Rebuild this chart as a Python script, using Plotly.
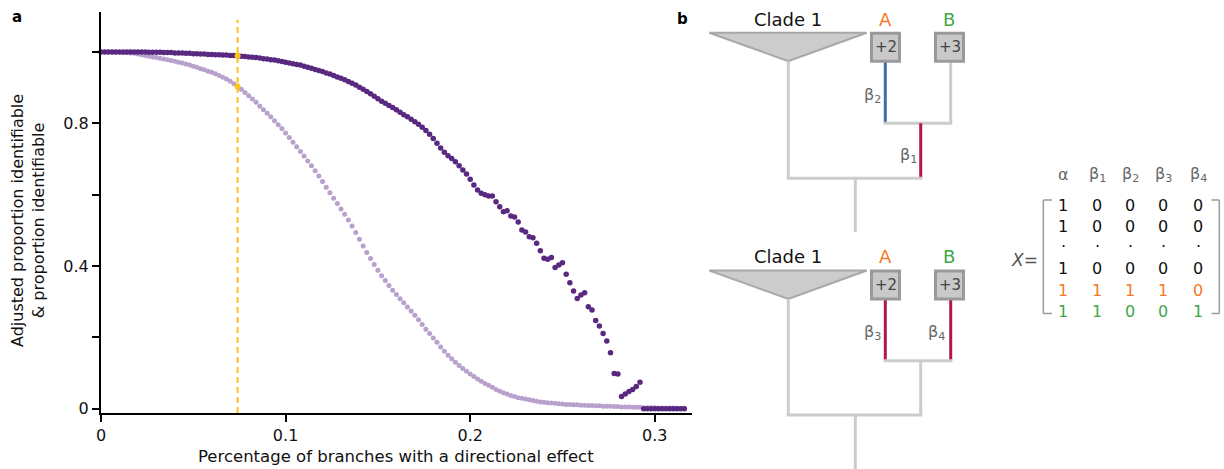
import plotly.graph_objects as go

# ---------------- data (panel a) ----------------
branch_fraction = [round(0.002 * i, 3) for i in range(159)]

adjusted_identifiable = [
    1.000, 1.000, 1.000, 1.000, 1.000, 1.000, 1.000, 1.000, 1.000, 1.000, 1.000,
    1.000, 1.000, 0.999, 0.999, 0.999, 0.999, 0.998, 0.998, 0.998, 0.997,
    0.997, 0.997, 0.996, 0.996, 0.995, 0.995, 0.994, 0.994, 0.993, 0.993,
    0.992, 0.992, 0.991, 0.991, 0.990, 0.990, 0.989,
    0.988, 0.987, 0.986, 0.985, 0.984, 0.983, 0.981, 0.980, 0.978, 0.977, 0.975,
    0.973, 0.971, 0.969, 0.967, 0.965, 0.963, 0.960, 0.957, 0.954,
    0.951, 0.948, 0.945, 0.941, 0.938, 0.934, 0.930, 0.926, 0.922,
    0.917, 0.912, 0.907, 0.901, 0.895, 0.889, 0.883, 0.876, 0.869,
    0.862, 0.856, 0.850, 0.844, 0.838, 0.831, 0.824,
    0.818, 0.811, 0.804, 0.797, 0.789, 0.780, 0.769, 0.757, 0.744, 0.731, 0.719, 0.709, 0.701, 0.692, 0.681,
    0.669, 0.658, 0.643, 0.627, 0.613, 0.604, 0.600, 0.596, 0.596, 0.580, 0.566, 0.552, 0.555, 0.540,
    0.537, 0.523, 0.501, 0.495, 0.482, 0.479, 0.464, 0.443,
    0.422, 0.419, 0.424, 0.396, 0.403, 0.409, 0.377, 0.353, 0.330, 0.309, 0.319, 0.325, 0.286, 0.277,
    0.247, 0.232, 0.211, 0.190, 0.157, 0.099, 0.097, 0.034, 0.041, 0.048, 0.054, 0.062, 0.074,
    0.000, 0.000, 0.000, 0.000, 0.000, 0.000, 0.000, 0.000, 0.000, 0.000, 0.000, 0.000,
]

proportion_identifiable = [
    1.000, 1.000, 1.000, 1.000, 0.999, 0.999, 0.998, 0.998, 0.997, 0.996,
    0.994, 0.992, 0.990, 0.988, 0.986, 0.984, 0.982, 0.980, 0.978, 0.976,
    0.974, 0.971, 0.969, 0.966, 0.963, 0.960, 0.957, 0.953, 0.950, 0.946,
    0.943, 0.939, 0.934, 0.929, 0.924, 0.918, 0.911, 0.903, 0.895, 0.886,
    0.877, 0.868, 0.859, 0.848, 0.838, 0.828, 0.818, 0.807, 0.796, 0.785,
    0.773, 0.760, 0.747, 0.734, 0.721, 0.708, 0.694, 0.681, 0.667, 0.652,
    0.637, 0.621, 0.605, 0.590, 0.575, 0.560, 0.545, 0.529, 0.512, 0.494,
    0.475, 0.456, 0.438, 0.421, 0.404, 0.388, 0.373, 0.359, 0.345, 0.332,
    0.320, 0.308, 0.297, 0.285, 0.274, 0.262, 0.249, 0.236, 0.223, 0.211,
    0.198, 0.186, 0.173, 0.161, 0.150, 0.140, 0.130, 0.121, 0.113, 0.105,
    0.097, 0.090, 0.083, 0.077, 0.071, 0.066, 0.060, 0.054, 0.049, 0.045,
    0.041, 0.037, 0.034, 0.031, 0.029, 0.027, 0.025, 0.023, 0.021, 0.019,
    0.018, 0.017, 0.016, 0.015, 0.014, 0.013, 0.012, 0.012, 0.011, 0.011,
    0.010, 0.010, 0.009, 0.009, 0.008, 0.008, 0.007, 0.007, 0.007, 0.006,
    0.006, 0.005, 0.005, 0.005, 0.004, 0.004, 0.004, 0.003, 0.003, 0.003,
    0.003, 0.002, 0.002, 0.002, 0.002, 0.002, 0.001, 0.001, 0.001,
]

threshold = 0.074
y_tick_vals = [0, 0.2, 0.4, 0.6, 0.8, 1.0]
y_tick_text = ["0", "", "0.4", "", "0.8", ""]
x_tick_vals = [0, 0.1, 0.2, 0.3]
x_tick_text = ["0", "0.1", "0.2", "0.3"]

# ---------------- data (panel b) ----------------
tip_labels = ["A", "B"]
tip_counts = ["+2", "+3"]
top_betas = ["β<sub>2</sub>", "β<sub>1</sub>"]
bottom_betas = ["β<sub>3</sub>", "β<sub>4</sub>"]
matrix_header = ["α", "β<sub>1</sub>", "β<sub>2</sub>", "β<sub>3</sub>", "β<sub>4</sub>"]
matrix_rows = [
    ["1", "0", "0", "0", "0"],
    ["1", "0", "0", "0", "0"],
    ["·", "·", "·", "·", "·"],
    ["1", "0", "0", "0", "0"],
    ["1", "1", "1", "1", "0"],
    ["1", "1", "0", "0", "1"],
]

# ---------------- styling ----------------
W, H = 1224, 469
FONT = "DejaVu Sans"
DARK = "#592880"
LIGHT = "#b8a1cd"
YELLOW = "#fcc419"
ORANGE = "#f47a26"
GREEN = "#3fa846"
CRIMSON = "#b3174e"
BLUE = "#3b6ea8"
BRANCH = "#cccccc"
row_colors = ["#111111", "#111111", "#111111", "#111111", ORANGE, GREEN]


def px(X):
    return X / W


def py(Y):
    return (H - Y) / H


fig = go.Figure()

fig.add_trace(go.Scatter(
    x=branch_fraction, y=proportion_identifiable, mode="markers",
    marker=dict(size=5, color=LIGHT), cliponaxis=False, showlegend=False,
    hoverinfo="skip"))
fig.add_trace(go.Scatter(
    x=branch_fraction, y=adjusted_identifiable, mode="markers",
    marker=dict(size=5.5, color=DARK), cliponaxis=False, showlegend=False,
    hoverinfo="skip"))

ti = branch_fraction.index(threshold)
fig.add_trace(go.Scatter(
    x=[branch_fraction[ti], branch_fraction[ti]],
    y=[proportion_identifiable[ti], adjusted_identifiable[ti]], mode="markers",
    marker=dict(size=6, color=YELLOW), cliponaxis=False, showlegend=False,
    hoverinfo="skip"))

shapes = []
annotations = []

# yellow dashed threshold line
shapes.append(dict(type="line", xref="x", yref="y", x0=threshold, x1=threshold,
                   y0=-0.012, y1=1.09, line=dict(color=YELLOW, width=2, dash="6px,4px"),
                   layer="below"))

# axis titles
annotations.append(dict(xref="paper", yref="paper", x=px(396), y=py(456),
                        text="Percentage of branches with a directional effect",
                        showarrow=False, font=dict(family=FONT, size=16.5, color="#111"),
                        xanchor="center", yanchor="middle"))
annotations.append(dict(xref="paper", yref="paper", x=px(28), y=py(221),
                        text="Adjusted proportion identifiable<br>& proportion identifiable",
                        textangle=-90, showarrow=False,
                        font=dict(family=FONT, size=16, color="#111"),
                        xanchor="center", yanchor="middle"))
# panel letters
annotations.append(dict(xref="paper", yref="paper", x=px(17), y=py(16.5), text="<b>a</b>",
                        showarrow=False, font=dict(family=FONT, size=15, color="#000"),
                        xanchor="center", yanchor="middle"))
annotations.append(dict(xref="paper", yref="paper", x=px(682), y=py(19), text="<b>b</b>",
                        showarrow=False, font=dict(family=FONT, size=15, color="#000"),
                        xanchor="center", yanchor="middle"))


def seg(x0, y0, x1, y1, color, width=3):
    shapes.append(dict(type="line", xref="paper", yref="paper",
                       x0=px(x0), y0=py(y0), x1=px(x1), y1=py(y1),
                       line=dict(color=color, width=width)))


def text(X, Y, t, color, size=16):
    annotations.append(dict(xref="paper", yref="paper", x=px(X), y=py(Y), text=t,
                            showarrow=False, font=dict(family=FONT, size=size, color=color),
                            xanchor="center", yanchor="middle"))


def tree(top, betas, beta_colors, tip_stem_colors, upper):
    tri_bot = top + 28.5
    clade_x, a_x, b_x, mid_x, root_x = 788.3, 885.3, 950.7, 920.7, 855.3
    text(788.3, top - 13.5, "Clade 1", "#111", 18)
    text(885.7, top - 13.5, tip_labels[0], ORANGE, 18)
    text(949.3, top - 13.5, tip_labels[1], GREEN, 18)
    shapes.append(dict(type="path", xref="paper", yref="paper",
                       path=f"M {px(709.3)},{py(top)} L {px(866.7)},{py(top)} L {px(clade_x)},{py(tri_bot)} Z",
                       fillcolor="#cccccc", line=dict(color="#a8a8a8", width=2)))
    if upper:
        join_y, node_y, root_end = 123.3, 178.3, 232
        seg(a_x, tri_bot, a_x, join_y, tip_stem_colors[0])
        seg(b_x, tri_bot, b_x, join_y, tip_stem_colors[1])
        seg(a_x - 1.5, join_y, b_x + 1.5, join_y, BRANCH)
        seg(mid_x, join_y, mid_x, node_y, beta_colors[1])
        seg(clade_x, tri_bot, clade_x, node_y, BRANCH)
        seg(clade_x - 1.5, node_y, mid_x + 1.5, node_y, BRANCH)
        seg(root_x, node_y, root_x, root_end, BRANCH)
        text(872, 95, betas[0], "#666", 16)
        text(908, 155, betas[1], "#666", 16)
    else:
        join_y, node_y, root_end = 360.7, 415, 469
        seg(a_x, tri_bot, a_x, join_y, beta_colors[0])
        seg(b_x, tri_bot, b_x, join_y, beta_colors[1])
        seg(a_x - 1.5, join_y, b_x + 1.5, join_y, BRANCH)
        seg(mid_x, join_y, mid_x, node_y, BRANCH)
        seg(clade_x, tri_bot, clade_x, node_y, BRANCH)
        seg(clade_x - 1.5, node_y, mid_x + 1.5, node_y, BRANCH)
        seg(root_x, node_y, root_x, root_end, BRANCH)
        text(872, 332, betas[0], "#666", 16)
        text(937, 332, betas[1], "#666", 16)
    for bx, lab in zip([885.5, 949.5], tip_counts):
        shapes.append(dict(type="rect", xref="paper", yref="paper",
                           x0=px(bx - 14), x1=px(bx + 14), y0=py(top + 0.5), y1=py(tri_bot),
                           fillcolor="#c9c9c9", line=dict(color="#9a9a9a", width=3)))
        text(bx, top + 14.5, lab, "#444", 15)


tree(32.7, top_betas, [BLUE, CRIMSON], [BLUE, BRANCH], True)
tree(270.5, bottom_betas, [CRIMSON, CRIMSON], [CRIMSON, CRIMSON], False)

# design matrix
col_x = [1063, 1097, 1130, 1163, 1198]
row_y = [205, 226.7, 246.7, 268.3, 290, 311.7]
for cx, h in zip(col_x, matrix_header):
    text(cx, 175, h, "#666", 16)
for r, (ry, row) in enumerate(zip(row_y, matrix_rows)):
    for cx, v in zip(col_x, row):
        text(cx, ry, v, row_colors[r], 16)
text(1024, 260, "<i>X</i>=", "#555", 17)
BR = "#9a9a9a"
seg(1043.3, 200, 1043.3, 313.5, BR, 1.5)
seg(1043.3, 200, 1052, 200, BR, 1.5)
seg(1043.3, 313.5, 1052, 313.5, BR, 1.5)
seg(1219.3, 200, 1219.3, 313.5, BR, 1.5)
seg(1211.5, 200, 1219.3, 200, BR, 1.5)
seg(1211.5, 313.5, 1219.3, 313.5, BR, 1.5)

fig.update_layout(
    width=W, height=H, margin=dict(l=0, r=0, t=0, b=0),
    paper_bgcolor="white", plot_bgcolor="white",
    shapes=shapes, annotations=annotations, showlegend=False,
    font=dict(family=FONT, size=16, color="#111"),
    xaxis=dict(domain=[101 / W, 691.7 / W], range=[0, 0.32], showgrid=False,
               zeroline=False, showline=True, linecolor="#000", linewidth=2,
               ticks="outside", ticklen=7, tickwidth=1.5, tickcolor="#000",
               tickvals=x_tick_vals, ticktext=x_tick_text,
               tickfont=dict(family=FONT, size=16, color="#111"), automargin=False),
    yaxis=dict(domain=[(H - 413) / H, (H - 12.3) / H], range=[-0.012, 1.111],
               showgrid=False, zeroline=False, showline=True, linecolor="#000",
               linewidth=2, ticks="outside", ticklen=7, tickwidth=1.5, tickcolor="#000",
               tickvals=y_tick_vals, ticktext=y_tick_text,
               tickfont=dict(family=FONT, size=16, color="#111"), automargin=False),
)

fig.write_html("out.html", config={"displayModeBar": False},
               post_script="document.body.style.margin='0px';document.body.style.overflow='hidden';")
